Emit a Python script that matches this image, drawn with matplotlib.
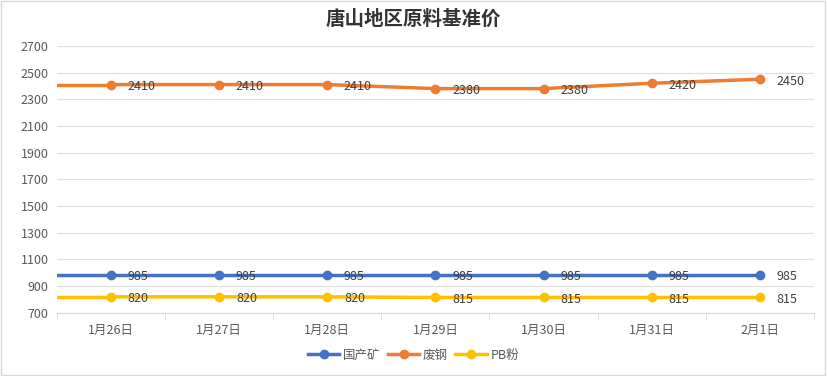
import matplotlib
matplotlib.use("Agg")
import matplotlib.pyplot as plt
from matplotlib.patches import Rectangle

plt.rcParams['font.family'] = ['Noto Sans CJK SC', 'DejaVu Sans']

title = "唐山地区原料基准价"
dates = ["1月26日", "1月27日", "1月28日", "1月29日", "1月30日", "1月31日", "2月1日"]
ore = [985, 985, 985, 985, 985, 985, 985]
scrap = [2410, 2410, 2410, 2380, 2380, 2420, 2450]
pb = [820, 820, 820, 815, 815, 815, 815]
series_names = ["国产矿", "废钢", "PB粉"]
yticks = list(range(700, 2701, 200))

colors = ["#4472C4", "#ED7D31", "#FFC000"]

fig = plt.figure(figsize=(8.27, 3.76), dpi=100)
ax = fig.add_axes([0.069, 0.168, 0.915, 0.71])
x = list(range(len(dates)))
for vals, name, c in zip([ore, scrap, pb], series_names, colors):
    ax.plot(x, vals, color=c, lw=2.5, marker='o', ms=6, label=name, zorder=3)
    # line continues to the left plot edge as in the reference
    ax.plot([-0.5, 0], [vals[0], vals[0]], color=c, lw=2.5, zorder=3)
    for xi, v in zip(x, vals):
        ax.annotate(str(v), (xi, v), xytext=(12, -1.5), textcoords='offset points',
                    ha='left', va='center', fontsize=9, color='#404040', zorder=4)

ax.set_xlim(-0.5, len(dates) - 0.5)
ax.set_ylim(700, 2700)
ax.set_yticks(yticks)
ax.set_yticklabels([str(t) for t in yticks], fontsize=9, color='#595959')
ax.set_xticks(x)
ax.set_xticklabels(dates, fontsize=9, color='#595959')
ax.set_xticks([i - 0.5 for i in range(len(dates) + 1)], minor=True)
ax.tick_params(axis='x', which='major', length=0, pad=8)
ax.tick_params(axis='x', which='minor', length=5, color='#D9D9D9')
ax.tick_params(axis='y', length=0, pad=6)
ax.grid(axis='y', color='#E0E0E0', lw=0.9)
ax.set_axisbelow(True)
for s in ['top', 'right', 'left']:
    ax.spines[s].set_visible(False)
ax.spines['bottom'].set_color('#D9D9D9')

fig.suptitle(title, x=0.5, y=0.975, fontsize=14, fontweight='bold', color='#333333')
handles, labels = ax.get_legend_handles_labels()
fig.legend(handles[:3], labels[:3], loc='center', bbox_to_anchor=(0.5, 0.055), ncol=3,
           frameon=False, fontsize=9, handlelength=2.5, columnspacing=0.6,
           handletextpad=0.3, labelcolor='#595959')
fig.patches.append(Rectangle((0.001, 0.002), 0.997, 0.995, transform=fig.transFigure,
                             fill=False, edgecolor='#D9D9D9', lw=1))
fig.savefig("out.png", dpi=100)
